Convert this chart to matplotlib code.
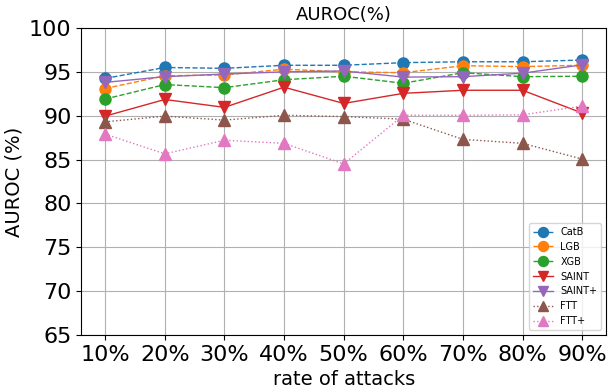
import matplotlib
matplotlib.use("Agg")
import matplotlib.pyplot as plt

rates = ['10%', '20%', '30%', '40%', '50%', '60%', '70%', '80%', '90%']
yticks = [65, 70, 75, 80, 85, 90, 95, 100]

catb = [94.25, 95.5, 95.4, 95.75, 95.75, 96.05, 96.15, 96.15, 96.35]
lgb = [93.1, 94.55, 94.65, 95.3, 95.0, 94.9, 95.7, 95.6, 95.75]
xgb = [91.9, 93.55, 93.2, 94.1, 94.5, 93.7, 94.9, 94.45, 94.5]
saint = [89.95, 91.85, 90.95, 93.25, 91.4, 92.55, 92.9, 92.9, 90.3]
saint_plus = [93.8, 94.45, 94.75, 95.0, 95.1, 94.4, 94.45, 94.85, 95.8]
ftt = [89.3, 89.95, 89.5, 90.05, 89.9, 89.6, 87.3, 86.85, 85.05]
ftt_plus = [87.9, 85.65, 87.2, 86.85, 84.5, 90.05, 90.05, 90.1, 91.1]

fig = plt.figure(figsize=(6.11, 3.89), dpi=100)
ax = fig.add_axes([0.133, 0.139, 0.859, 0.789])

x = range(len(rates))
ax.plot(x, catb, '--o', color='tab:blue', markersize=8, linewidth=1, label='CatB')
ax.plot(x, lgb, '--o', color='tab:orange', markersize=8, linewidth=1, label='LGB')
ax.plot(x, xgb, '--o', color='tab:green', markersize=8, linewidth=1, label='XGB')
ax.plot(x, saint, '-v', color='tab:red', markersize=8, linewidth=1, label='SAINT')
ax.plot(x, saint_plus, '-v', color='tab:purple', markersize=8, linewidth=1, label='SAINT+')
ax.plot(x, ftt, ':^', color='tab:brown', markersize=8, linewidth=1, label='FTT')
ax.plot(x, ftt_plus, ':^', color='tab:pink', markersize=8, linewidth=1, label='FTT+')

ax.set_xticks(list(x))
ax.set_xticklabels(rates)
ax.set_ylim(65, 100)
ax.set_yticks(yticks)
ax.tick_params(labelsize=16)
ax.grid(True)
ax.set_title('AUROC(%)', fontsize=13)
ax.set_xlabel('rate of attacks', fontsize=14)
ax.set_ylabel('AUROC (%)', fontsize=14)
ax.legend(loc='lower right', fontsize=7, markerscale=0.9)

fig.savefig('out.png', dpi=100)
